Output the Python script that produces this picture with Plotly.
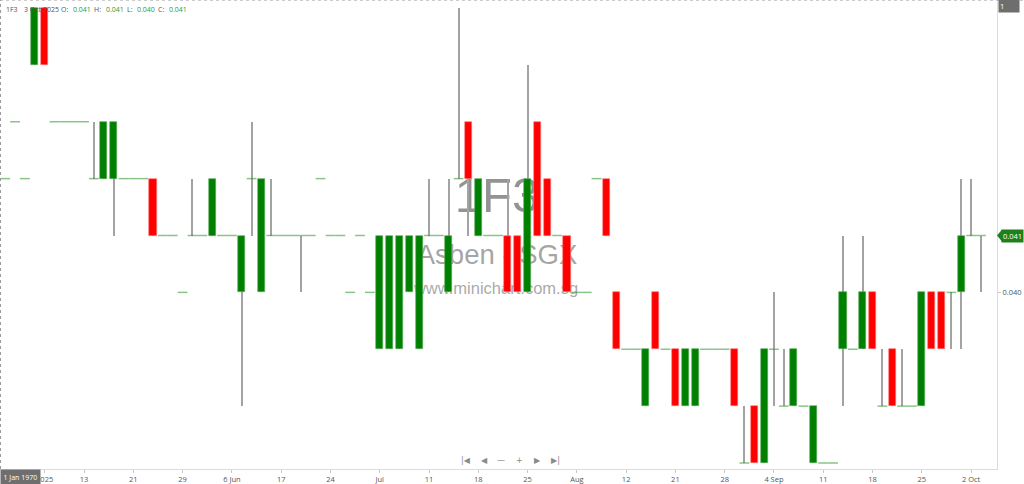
import plotly.graph_objects as go

# ---------------- data (prices) ----------------
opens = [0.042, 0.043, 0.042, 0.044, 0.045, 0.043, 0.043, 0.043, 0.043, 0.042,
         0.042, 0.042, 0.042, 0.042, 0.042, 0.042, 0.041, 0.041, 0.040, 0.041,
         0.041, 0.041, 0.041, 0.041, 0.040, 0.042, 0.040, 0.041, 0.041, 0.041,
         0.041, 0.041, 0.042, 0.041, 0.041, 0.040, 0.041, 0.040, 0.039, 0.039,
         0.039, 0.040, 0.039, 0.041, 0.041, 0.040, 0.042, 0.043, 0.041, 0.041,
         0.041, 0.041, 0.041, 0.040, 0.043, 0.042, 0.041, 0.041, 0.040, 0.040,
         0.042, 0.042, 0.040, 0.039, 0.039, 0.038, 0.040, 0.039, 0.039, 0.038,
         0.038, 0.039, 0.039, 0.039, 0.039, 0.037, 0.038, 0.037, 0.039, 0.038,
         0.038, 0.038, 0.037, 0.037, 0.037, 0.039, 0.039, 0.039, 0.040, 0.038,
         0.039, 0.038, 0.038, 0.038, 0.040, 0.040, 0.040, 0.040, 0.041, 0.041]
highs = [0.042, 0.043, 0.042, 0.045, 0.045, 0.043, 0.043, 0.043, 0.043, 0.043,
         0.043, 0.043, 0.042, 0.042, 0.042, 0.042, 0.041, 0.041, 0.040, 0.042,
         0.041, 0.042, 0.041, 0.041, 0.041, 0.043, 0.042, 0.042, 0.041, 0.041,
         0.041, 0.041, 0.042, 0.041, 0.041, 0.040, 0.041, 0.040, 0.041, 0.041,
         0.041, 0.041, 0.041, 0.042, 0.041, 0.042, 0.045, 0.043, 0.042, 0.041,
         0.041, 0.042, 0.041, 0.044, 0.043, 0.042, 0.041, 0.041, 0.040, 0.040,
         0.042, 0.042, 0.040, 0.039, 0.039, 0.039, 0.040, 0.039, 0.039, 0.039,
         0.039, 0.039, 0.039, 0.039, 0.039, 0.038, 0.038, 0.039, 0.040, 0.039,
         0.039, 0.038, 0.038, 0.037, 0.037, 0.041, 0.039, 0.041, 0.040, 0.039,
         0.039, 0.039, 0.038, 0.040, 0.040, 0.040, 0.040, 0.042, 0.042, 0.041]
lows = [0.042, 0.043, 0.042, 0.044, 0.044, 0.043, 0.043, 0.043, 0.043, 0.042,
        0.042, 0.041, 0.042, 0.042, 0.042, 0.041, 0.041, 0.041, 0.040, 0.041,
        0.041, 0.041, 0.041, 0.041, 0.038, 0.041, 0.040, 0.041, 0.041, 0.041,
        0.040, 0.041, 0.042, 0.041, 0.041, 0.040, 0.041, 0.040, 0.039, 0.039,
        0.039, 0.040, 0.039, 0.041, 0.041, 0.040, 0.042, 0.041, 0.041, 0.041,
        0.041, 0.040, 0.040, 0.040, 0.041, 0.041, 0.041, 0.040, 0.040, 0.040,
        0.042, 0.041, 0.039, 0.039, 0.039, 0.038, 0.039, 0.039, 0.038, 0.038,
        0.038, 0.039, 0.039, 0.039, 0.038, 0.037, 0.037, 0.037, 0.038, 0.038,
        0.038, 0.038, 0.037, 0.037, 0.037, 0.038, 0.039, 0.039, 0.039, 0.038,
        0.038, 0.038, 0.038, 0.038, 0.039, 0.039, 0.039, 0.039, 0.041, 0.040]
closes = [0.042, 0.043, 0.042, 0.045, 0.044, 0.043, 0.043, 0.043, 0.043, 0.042,
          0.043, 0.043, 0.042, 0.042, 0.042, 0.041, 0.041, 0.041, 0.040, 0.041,
          0.041, 0.042, 0.041, 0.041, 0.041, 0.042, 0.042, 0.041, 0.041, 0.041,
          0.041, 0.041, 0.042, 0.041, 0.041, 0.040, 0.041, 0.040, 0.041, 0.041,
          0.041, 0.041, 0.041, 0.041, 0.041, 0.041, 0.042, 0.042, 0.042, 0.041,
          0.041, 0.040, 0.040, 0.042, 0.041, 0.041, 0.041, 0.040, 0.040, 0.040,
          0.042, 0.041, 0.039, 0.039, 0.039, 0.039, 0.039, 0.039, 0.038, 0.039,
          0.039, 0.039, 0.039, 0.039, 0.038, 0.037, 0.037, 0.039, 0.039, 0.038,
          0.039, 0.038, 0.038, 0.037, 0.037, 0.040, 0.039, 0.040, 0.039, 0.038,
          0.038, 0.038, 0.038, 0.040, 0.039, 0.039, 0.040, 0.041, 0.041, 0.041]

tick_pos = [4, 8, 13, 18, 23, 28, 33, 38, 43, 48, 53, 58, 63, 68, 73, 78, 83, 88, 93, 98]
tick_text = ["2025", "13", "21", "29", "6 Jun", "17", "24", "Jul", "11", "18",
             "25", "Aug", "12", "21", "28", "4 Sep", "11", "18", "25", "2 Oct"]

y_ticks = [0.040]
y_tick_text = ["0.040"]

# ---------------- geometry ----------------
W, H = 1024, 484
ML, MR, MT, MB = 0, 27, 0, 15
PW, PH = W - ML - MR, H - MT - MB
X_RANGE = [-0.528, 100.63]
Y_RANGE = [0.0368945, 0.0451407]
UNIT_PX = PW / (X_RANGE[1] - X_RANGE[0])

n = len(opens)
idx = list(range(n))

fig = go.Figure()

# watermark on the hidden base axes (0..1) so the candles overlay it
fig.add_trace(go.Scatter(
    x=[497 / PW, 497 / PW, 496 / PW],
    y=[1 - 200 / PH, 1 - 257 / PH, 1 - 290 / PH],
    xaxis="x", yaxis="y",
    mode="text",
    text=["1F3", "Asben - SGX", "www.minichart.com.sg"],
    textfont=dict(family="Liberation Sans, Arial, sans-serif",
                  size=[49, 27.5, 16.5],
                  color=["rgba(120,120,120,0.8)", "rgba(135,135,135,0.75)", "rgba(140,140,140,0.75)"]),
    hoverinfo="skip", showlegend=False))

# wicks (thin bars so that they sit under the bodies)
wk_x = [i for i in idx if highs[i] > lows[i]]
fig.add_trace(go.Bar(
    x=wk_x,
    y=[highs[i] - lows[i] for i in wk_x],
    base=[lows[i] for i in wk_x],
    xaxis="x2", yaxis="y2",
    width=1.0 / UNIT_PX,
    marker=dict(color="#a3a3a3", line=dict(width=0)),
    hoverinfo="skip", showlegend=False))

# bodies
up_x = [i for i in idx if closes[i] > opens[i]]
dn_x = [i for i in idx if closes[i] < opens[i]]
fig.add_trace(go.Bar(
    x=up_x,
    y=[closes[i] - opens[i] for i in up_x],
    base=[opens[i] for i in up_x],
    xaxis="x2", yaxis="y2",
    width=0.73,
    marker=dict(color="#008000", line=dict(color="rgba(90,170,90,1)", width=0.6)),
    hoverinfo="skip", showlegend=False))
fig.add_trace(go.Bar(
    x=dn_x,
    y=[opens[i] - closes[i] for i in dn_x],
    base=[closes[i] for i in dn_x],
    xaxis="x2", yaxis="y2",
    width=0.73,
    marker=dict(color="#ff0000", line=dict(color="rgba(255,120,120,1)", width=0.6)),
    hoverinfo="skip", showlegend=False))

# flat (open == close) bars
fl_x = [i for i in idx if closes[i] == opens[i]]
fig.add_trace(go.Scatter(
    x=fl_x, y=[closes[i] for i in fl_x], mode="markers",
    xaxis="x2", yaxis="y2",
    marker=dict(symbol="line-ew", size=7,
                line=dict(color="rgba(40,150,40,0.55)", width=1.5)),
    hoverinfo="skip", showlegend=False))

# ---------------- annotations ----------------
ann = []
grey = "#555555"
green = "#2e9a2e"
header = [("1F3", 4, grey), ("3 Oct 2025", 22, grey), ("O:", 59, grey), ("0.041", 71, green),
          ("H:", 92, grey), ("0.041", 104, green), ("L:", 125, grey), ("0.040", 135, green),
          ("C:", 156, grey), ("0.041", 167, green)]
for t, xp, c in header:
    ann.append(dict(text=t, x=xp / PW, y=1 - 10 / PH, xref="paper", yref="paper",
                    xanchor="left", yanchor="middle", showarrow=False,
                    font=dict(family="Open Sans, sans-serif", size=7, color=c)))

# navigation buttons
nav = [("|◀", 466), ("◀", 484), ("—", 501), ("+", 519), ("▶", 537), ("▶|", 555)]
for t, xp in nav:
    ann.append(dict(text=t, x=xp / PW, y=1 - 460 / PH, xref="paper", yref="paper",
                    xanchor="center", yanchor="middle", showarrow=False,
                    font=dict(family="DejaVu Sans, sans-serif", size=8, color="#8a8a8a")))

# date crosshair box bottom-left
ann.append(dict(text="1 Jan 1970", x=0, y=-(477 - PH) / PH, xref="paper", yref="paper",
                xanchor="left", yanchor="middle", showarrow=False,
                bgcolor="#6e6e6e", borderpad=2.5,
                font=dict(family="Open Sans, sans-serif", size=7, color="white")))

# "1" box top-right
ann.append(dict(text="1", x=1 + 1 / PW, y=1 - 6 / PH, xref="paper", yref="paper",
                xanchor="left", yanchor="middle", showarrow=False, width=18, align="left",
                bgcolor="#6e6e6e", borderpad=1,
                font=dict(family="Open Sans, sans-serif", size=7.5, color="white")))

# last price tag
ann.append(dict(text="0.041", x=1 + 4 / PW, y=closes[-1], xref="paper", yref="y2",
                xanchor="left", yanchor="middle", showarrow=False,
                bgcolor="#1d801d", borderpad=1,
                font=dict(family="Open Sans, sans-serif", size=7.5, color="white")))

dy = 6 / PH * (Y_RANGE[1] - Y_RANGE[0])
shapes = [
    # price tag arrow
    dict(type="path", xref="paper", yref="y2",
         path=f"M 1,{closes[-1]} L {1 + 5 / PW},{closes[-1] + dy} L {1 + 5 / PW},{closes[-1] - dy} Z",
         fillcolor="#1d801d", line=dict(width=0)),
    # dotted top / left border
    dict(type="line", xref="paper", yref="paper", x0=0, x1=W / PW, y0=1, y1=1,
         line=dict(color="#9a9a9a", width=1, dash="dot")),
    dict(type="line", xref="paper", yref="paper", x0=0.0005, x1=0.0005, y0=0, y1=1,
         line=dict(color="#9a9a9a", width=1, dash="dot")),
]

tickfont = dict(family="Open Sans, sans-serif", size=7.5, color="#555555")
fig.update_layout(
    width=W, height=H,
    margin=dict(l=ML, r=MR, t=MT, b=MB, pad=0),
    paper_bgcolor="white", plot_bgcolor="white",
    barmode="overlay", bargap=0,
    showlegend=False,
    annotations=ann, shapes=shapes,
    xaxis=dict(range=[0, 1], visible=False, fixedrange=True),
    yaxis=dict(range=[0, 1], visible=False, fixedrange=True),
    xaxis2=dict(overlaying="x", side="bottom", anchor="y2",
                range=X_RANGE, tickvals=tick_pos, ticktext=tick_text,
                showgrid=False, zeroline=False, showline=True, linecolor="#dcdcdc",
                ticks="outside", ticklen=3, tickcolor="#c8c8c8", tickfont=tickfont,
                automargin=False, fixedrange=True),
    yaxis2=dict(overlaying="y", side="right", anchor="x2",
                range=Y_RANGE, tickvals=y_ticks, ticktext=y_tick_text,
                showgrid=False, zeroline=False, showline=True, linecolor="#dcdcdc",
                ticks="outside", ticklen=3, tickcolor="#c8c8c8", tickfont=tickfont,
                automargin=False, fixedrange=True),
)

fig.write_html("out.html", config={"displayModeBar": False},
               post_script="document.body.style.margin='0px';document.body.style.overflow='hidden';")
